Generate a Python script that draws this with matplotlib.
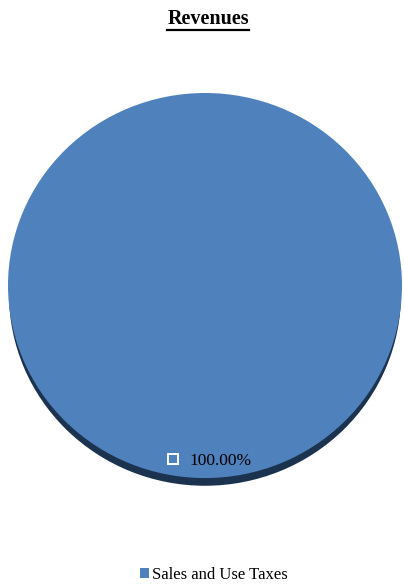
import numpy as np
import matplotlib.pyplot as plt
from matplotlib.lines import Line2D
from matplotlib.patches import Patch

# data
categories = ['Sales and Use Taxes']
values = [100.0]
title = 'Revenues'

blue = '#4f81bd'
plt.rcParams['font.family'] = ['Liberation Serif', 'DejaVu Serif']

fig = plt.figure(figsize=(4.04, 5.86), dpi=100)
W, H = 404, 586
# axes box in pixels: x 8..402, y 93..490
ax = fig.add_axes([8 / W, (H - 490) / H, 394 / W, (490 - 93) / H])

# shadow / depth under the pie
ax.pie(values, colors=['#1c3350'], radius=0.995, center=(0, -0.045),
       startangle=90, counterclock=False, frame=True,
       wedgeprops=dict(linewidth=0))
wedges, texts, autotexts = ax.pie(values, colors=[blue], radius=1.0,
                                  startangle=90, counterclock=False,
                                  autopct='%1.2f%%', pctdistance=0.91,
                                  frame=True, wedgeprops=dict(linewidth=0))
for t in autotexts:
    x, y = t.get_position()
    t.set_position((x + 0.078, y))
    t.set_fontsize(12.5)
    t.set_color('black')
    # little label key square
    ax.plot([x - 0.16], [y + 0.01], marker='s', markersize=6.5,
            markerfacecolor='none', markeredgecolor='white', markeredgewidth=1.4)

ax.set_xlim(-1, 1)
ax.set_ylim(-1.062, 1)
ax.set_aspect('auto')
ax.axis('off')

# title with underline
fig.text(208 / W, 1 - 19 / H, title, ha='center', va='center',
         fontsize=14.5, fontweight='bold')
fig.add_artist(Line2D([167 / W, 249 / W], [1 - 29.5 / H, 1 - 29.5 / H],
                      color='black', linewidth=1.6))

handles = [Patch(facecolor=blue, edgecolor='none') for _ in categories]
fig.legend(handles, categories, loc='center', bbox_to_anchor=(214 / W, 1 - 575 / H),
           frameon=False, fontsize=12, handlelength=0.55, handleheight=0.55,
           handletextpad=0.2)

fig.savefig('out.png', dpi=100)
